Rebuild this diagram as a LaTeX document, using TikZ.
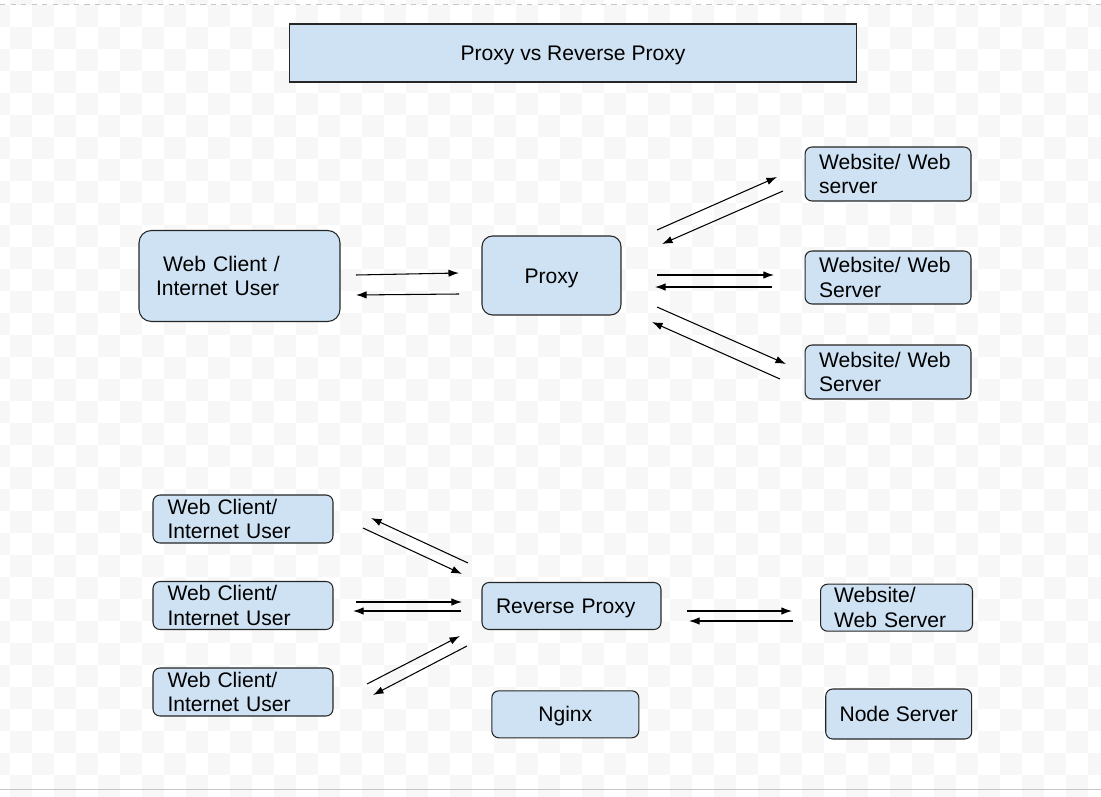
\documentclass[tikz,border=0pt]{standalone}
\usepackage{fontspec}
\setmainfont{Liberation Sans}
\usetikzlibrary{arrows.meta}
\definecolor{boxblue}{HTML}{CFE2F3}
\definecolor{checker}{HTML}{F7F7F7}
\definecolor{edge}{HTML}{C4C8C4}
\tikzset{
  box/.style={
      draw=black!85,
      fill=boxblue,
      line width=0.6pt,
      rounded corners=4pt,
      inner ysep=0pt,
      font=\fontsize{12}{14}\selectfont,
  },
  boxleft/.style 2 args={
      box,
      align=left,
      inner xsep=#1,
      text width=#2,
  },
  oneline/.style={
      text height=8.6pt,
      text depth=0pt,
  },
  link/.style={
      -{Latex[length=6pt,width=4.2pt]},
      line width=0.6pt,
  }
}

\begin{document}
\begin{tikzpicture}[x=0.02cm,y=-0.02cm]
    \useasboundingbox (0,0) rectangle (1101,797);
    \fill[white] (0,0) rectangle (1101,797);
    \begin{scope}
        \clip (0,0) rectangle (1101,797);
        \foreach \i in {0,...,50}{
            \foreach \j in {0,...,37}{
                \pgfmathtruncatemacro\k{\i+\j}
                \ifodd\k
                    \fill[checker] (-12+22*\i,-17+22*\j) rectangle ++(22,22);
                \fi
            }
        }
    \end{scope}
    \draw[edge,dashed,line width=0.5pt] (0,4.5) -- (1101,4.5);
    \draw[edge,line width=0.7pt] (0,789.5) -- (1101,789.5);

    \node[box,oneline,rounded corners=0pt,minimum width=11.36cm,minimum height=1.16cm]
        (title) at (573,53) {Proxy vs Reverse Proxy};

    \node[boxleft={0.34cm}{3.34cm},rounded corners=7pt,minimum height=1.82cm]
        (client) at (239.5,276) {\ Web~Client~/\\Internet~User};
    \node[box,oneline,rounded corners=6pt,minimum width=2.78cm,minimum height=1.58cm]
        (proxy) at (551.5,275.5) {Proxy};
    \node[boxleft={0.28cm}{2.76cm},minimum height=1.08cm]
        (web1) at (888,174) {Website/~Web\\server};
    \node[boxleft={0.28cm}{2.76cm},minimum height=1.06cm]
        (web2) at (888,277.5) {Website/~Web\\Server};
    \node[boxleft={0.28cm}{2.76cm},minimum height=1.08cm]
        (web3) at (888,372) {Website/~Web\\Server};

    \node[boxleft={0.29cm}{3.02cm},minimum height=0.96cm]
        (user1) at (243,519) {Web~Client/\\Internet~User};
    \node[boxleft={0.29cm}{3.02cm},minimum height=0.96cm]
        (user2) at (243,605.5) {Web~Client/\\Internet~User};
    \node[boxleft={0.29cm}{3.02cm},minimum height=0.96cm]
        (user3) at (243,692) {Web~Client/\\Internet~User};
    \node[boxleft={0.28cm}{3.02cm},oneline,minimum height=0.94cm]
        (reverse) at (571.5,606) {Reverse~Proxy};
    \node[box,oneline,minimum width=2.94cm,minimum height=0.94cm]
        (nginx) at (565.3,714.3) {Nginx};
    \node[boxleft={0.27cm}{2.5cm},minimum height=0.94cm]
        (site) at (896.5,607.7) {Website/\\Web~Server};
    \node[box,oneline,minimum width=2.92cm,minimum height=1.0cm]
        (nodeserver) at (898.7,714) {Node Server};

    \coordinate (c1a) at (356,275);  \coordinate (p1a) at (459,273);
    \coordinate (p1b) at (459,294);  \coordinate (c1b) at (356,295);
    \coordinate (pw1a) at (657,230); \coordinate (w1a) at (777,177);
    \coordinate (w1b) at (783,191);  \coordinate (pw1b) at (662,244);
    \coordinate (pw2a) at (657,275); \coordinate (w2a) at (774,275);
    \coordinate (w2b) at (772,287);  \coordinate (pw2b) at (655,287);
    \coordinate (pw3a) at (657,307); \coordinate (w3a) at (786,364);
    \coordinate (w3b) at (780,379);  \coordinate (pw3b) at (652,322);

    \coordinate (r1a) at (468,563);  \coordinate (u1a) at (371,518);
    \coordinate (u1b) at (363,528);  \coordinate (r1b) at (462,574);
    \coordinate (u2a) at (356,602);  \coordinate (r2a) at (462,602);
    \coordinate (r2b) at (461,611);  \coordinate (u2b) at (353,611);
    \coordinate (u3a) at (367,684);  \coordinate (r3a) at (460,636);
    \coordinate (r3b) at (467,646);  \coordinate (u3b) at (373,695);
    \coordinate (rsa) at (687,611);  \coordinate (sa) at (792,611);
    \coordinate (sb) at (793,621);   \coordinate (rsb) at (689,621);

    \draw[link] (c1a) -- (p1a);
    \draw[link] (p1b) -- (c1b);
    \draw[link] (pw1a) -- (w1a);
    \draw[link] (w1b) -- (pw1b);
    \draw[link] (pw2a) -- (w2a);
    \draw[link] (w2b) -- (pw2b);
    \draw[link] (pw3a) -- (w3a);
    \draw[link] (w3b) -- (pw3b);

    \draw[link] (r1a) -- (u1a);
    \draw[link] (u1b) -- (r1b);
    \draw[link] (u2a) -- (r2a);
    \draw[link] (r2b) -- (u2b);
    \draw[link] (u3a) -- (r3a);
    \draw[link] (r3b) -- (u3b);
    \draw[link] (rsa) -- (sa);
    \draw[link] (sb) -- (rsb);
\end{tikzpicture}
\end{document}
